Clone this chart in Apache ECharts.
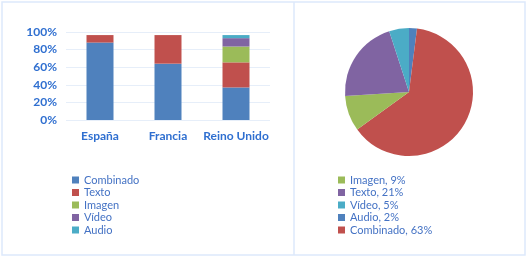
<!DOCTYPE html>
<html>
<head>
<meta charset="utf-8">
<script src="https://cdn.jsdelivr.net/npm/echarts@6/dist/echarts.min.js"></script>
<style>
  html, body { margin: 0; padding: 0; background: #fff; }
  #main { width: 527px; height: 258px; }
</style>
</head>
<body>
<div id="main"></div>
<script>
// datos de las barras (porcentaje por pais)
var paises = ['España', 'Francia', 'Reino Unido'];
var serieNombres = ['Combinado', 'Texto', 'Imagen', 'Vídeo', 'Audio'];
var combinado = [88, 64, 37];
var texto = [8.5, 32.5, 28.5];
var imagen = [0, 0, 18];
var video = [0, 0, 9.5];
var audio = [0, 0, 3.5];
var yTicks = [0, 20, 40, 60, 80, 100];

// datos de la tarta
var tartaNombres = ['Audio', 'Combinado', 'Imagen', 'Texto', 'Vídeo'];
var tartaValores = [2, 63, 9, 21, 5];
var tartaLeyenda = ['Imagen', 'Texto', 'Vídeo', 'Audio', 'Combinado'];

var colores = ['#4f81bd', '#c0504d', '#9bbb59', '#8064a2', '#4bacc6'];
var tartaColores = ['#4f81bd', '#c0504d', '#9bbb59', '#8064a2', '#4bacc6'];

var valoresBarras = [combinado, texto, imagen, video, audio];

var seriesData = [];
for (var i = 0; i < serieNombres.length; i++) {
    seriesData.push({
        name: serieNombres[i],
        type: 'bar',
        stack: 'total',
        barWidth: 27,
        data: valoresBarras[i],
        itemStyle: { color: colores[i] }
    });
}

var pieData = [];
var pctPorNombre = {};
for (var i = 0; i < tartaNombres.length; i++) {
    var etiqueta = tartaNombres[i] + ', ' + tartaValores[i] + '%';
    pctPorNombre[tartaNombres[i]] = etiqueta;
    pieData.push({
        name: etiqueta,
        value: tartaValores[i],
        itemStyle: { color: tartaColores[i] }
    });
}
var pieLegendData = [];
for (var i = 0; i < tartaLeyenda.length; i++) {
    pieLegendData.push(pctPorNombre[tartaLeyenda[i]]);
}

seriesData.push({
    name: 'tarta',
    type: 'pie',
    center: [409, 92],
    radius: 64,
    startAngle: 90,
    clockwise: true,
    label: { show: false },
    labelLine: { show: false },
    silent: true,
    data: pieData
});

var myChart = echarts.init(document.getElementById('main'));
var option = {
    backgroundColor: '#fff',
    animation: false,
    textStyle: { fontFamily: 'Lato' },
    graphic: [
        {
            type: 'rect',
            shape: { x: 2, y: 2, width: 523, height: 253 },
            style: { fill: 'none', stroke: '#dde9fb', lineWidth: 1.5 },
            silent: true
        },
        {
            type: 'line',
            shape: { x1: 294, y1: 2, x2: 294, y2: 255 },
            style: { stroke: '#dde9fb', lineWidth: 1.5 },
            silent: true
        }
    ],
    legend: [
        {
            orient: 'vertical',
            left: 67,
            top: 169,
            itemWidth: 7,
            itemHeight: 7,
            itemGap: 0.5,
            icon: 'rect',
            data: serieNombres,
            textStyle: { color: '#4472c4', fontSize: 11, lineHeight: 12, fontFamily: 'Lato' }
        },
        {
            orient: 'vertical',
            left: 333,
            top: 169,
            itemWidth: 7,
            itemHeight: 7,
            itemGap: 0.5,
            icon: 'rect',
            data: pieLegendData,
            textStyle: { color: '#4472c4', fontSize: 11, lineHeight: 12, fontFamily: 'Lato' }
        }
    ],
    grid: {
        left: 66,
        width: 204,
        top: 32,
        height: 88
    },
    xAxis: {
        type: 'category',
        data: paises,
        axisLine: { show: false },
        axisTick: { show: false },
        axisLabel: {
            interval: 0,
            color: '#2f6fd0',
            fontWeight: 'bold',
            fontSize: 12,
            margin: 10,
            fontFamily: 'Lato'
        }
    },
    yAxis: {
        type: 'value',
        min: yTicks[0],
        max: yTicks[yTicks.length - 1],
        interval: 20,
        axisLine: { show: false },
        axisTick: { show: false },
        splitLine: { lineStyle: { color: '#e6eef9', width: 1 } },
        axisLabel: {
            formatter: '{value}%',
            color: '#2f6fd0',
            fontWeight: 'bold',
            fontSize: 12,
            margin: 9,
            fontFamily: 'Lato'
        }
    },
    series: seriesData
};
myChart.setOption(option);
</script>
</body>
</html>
